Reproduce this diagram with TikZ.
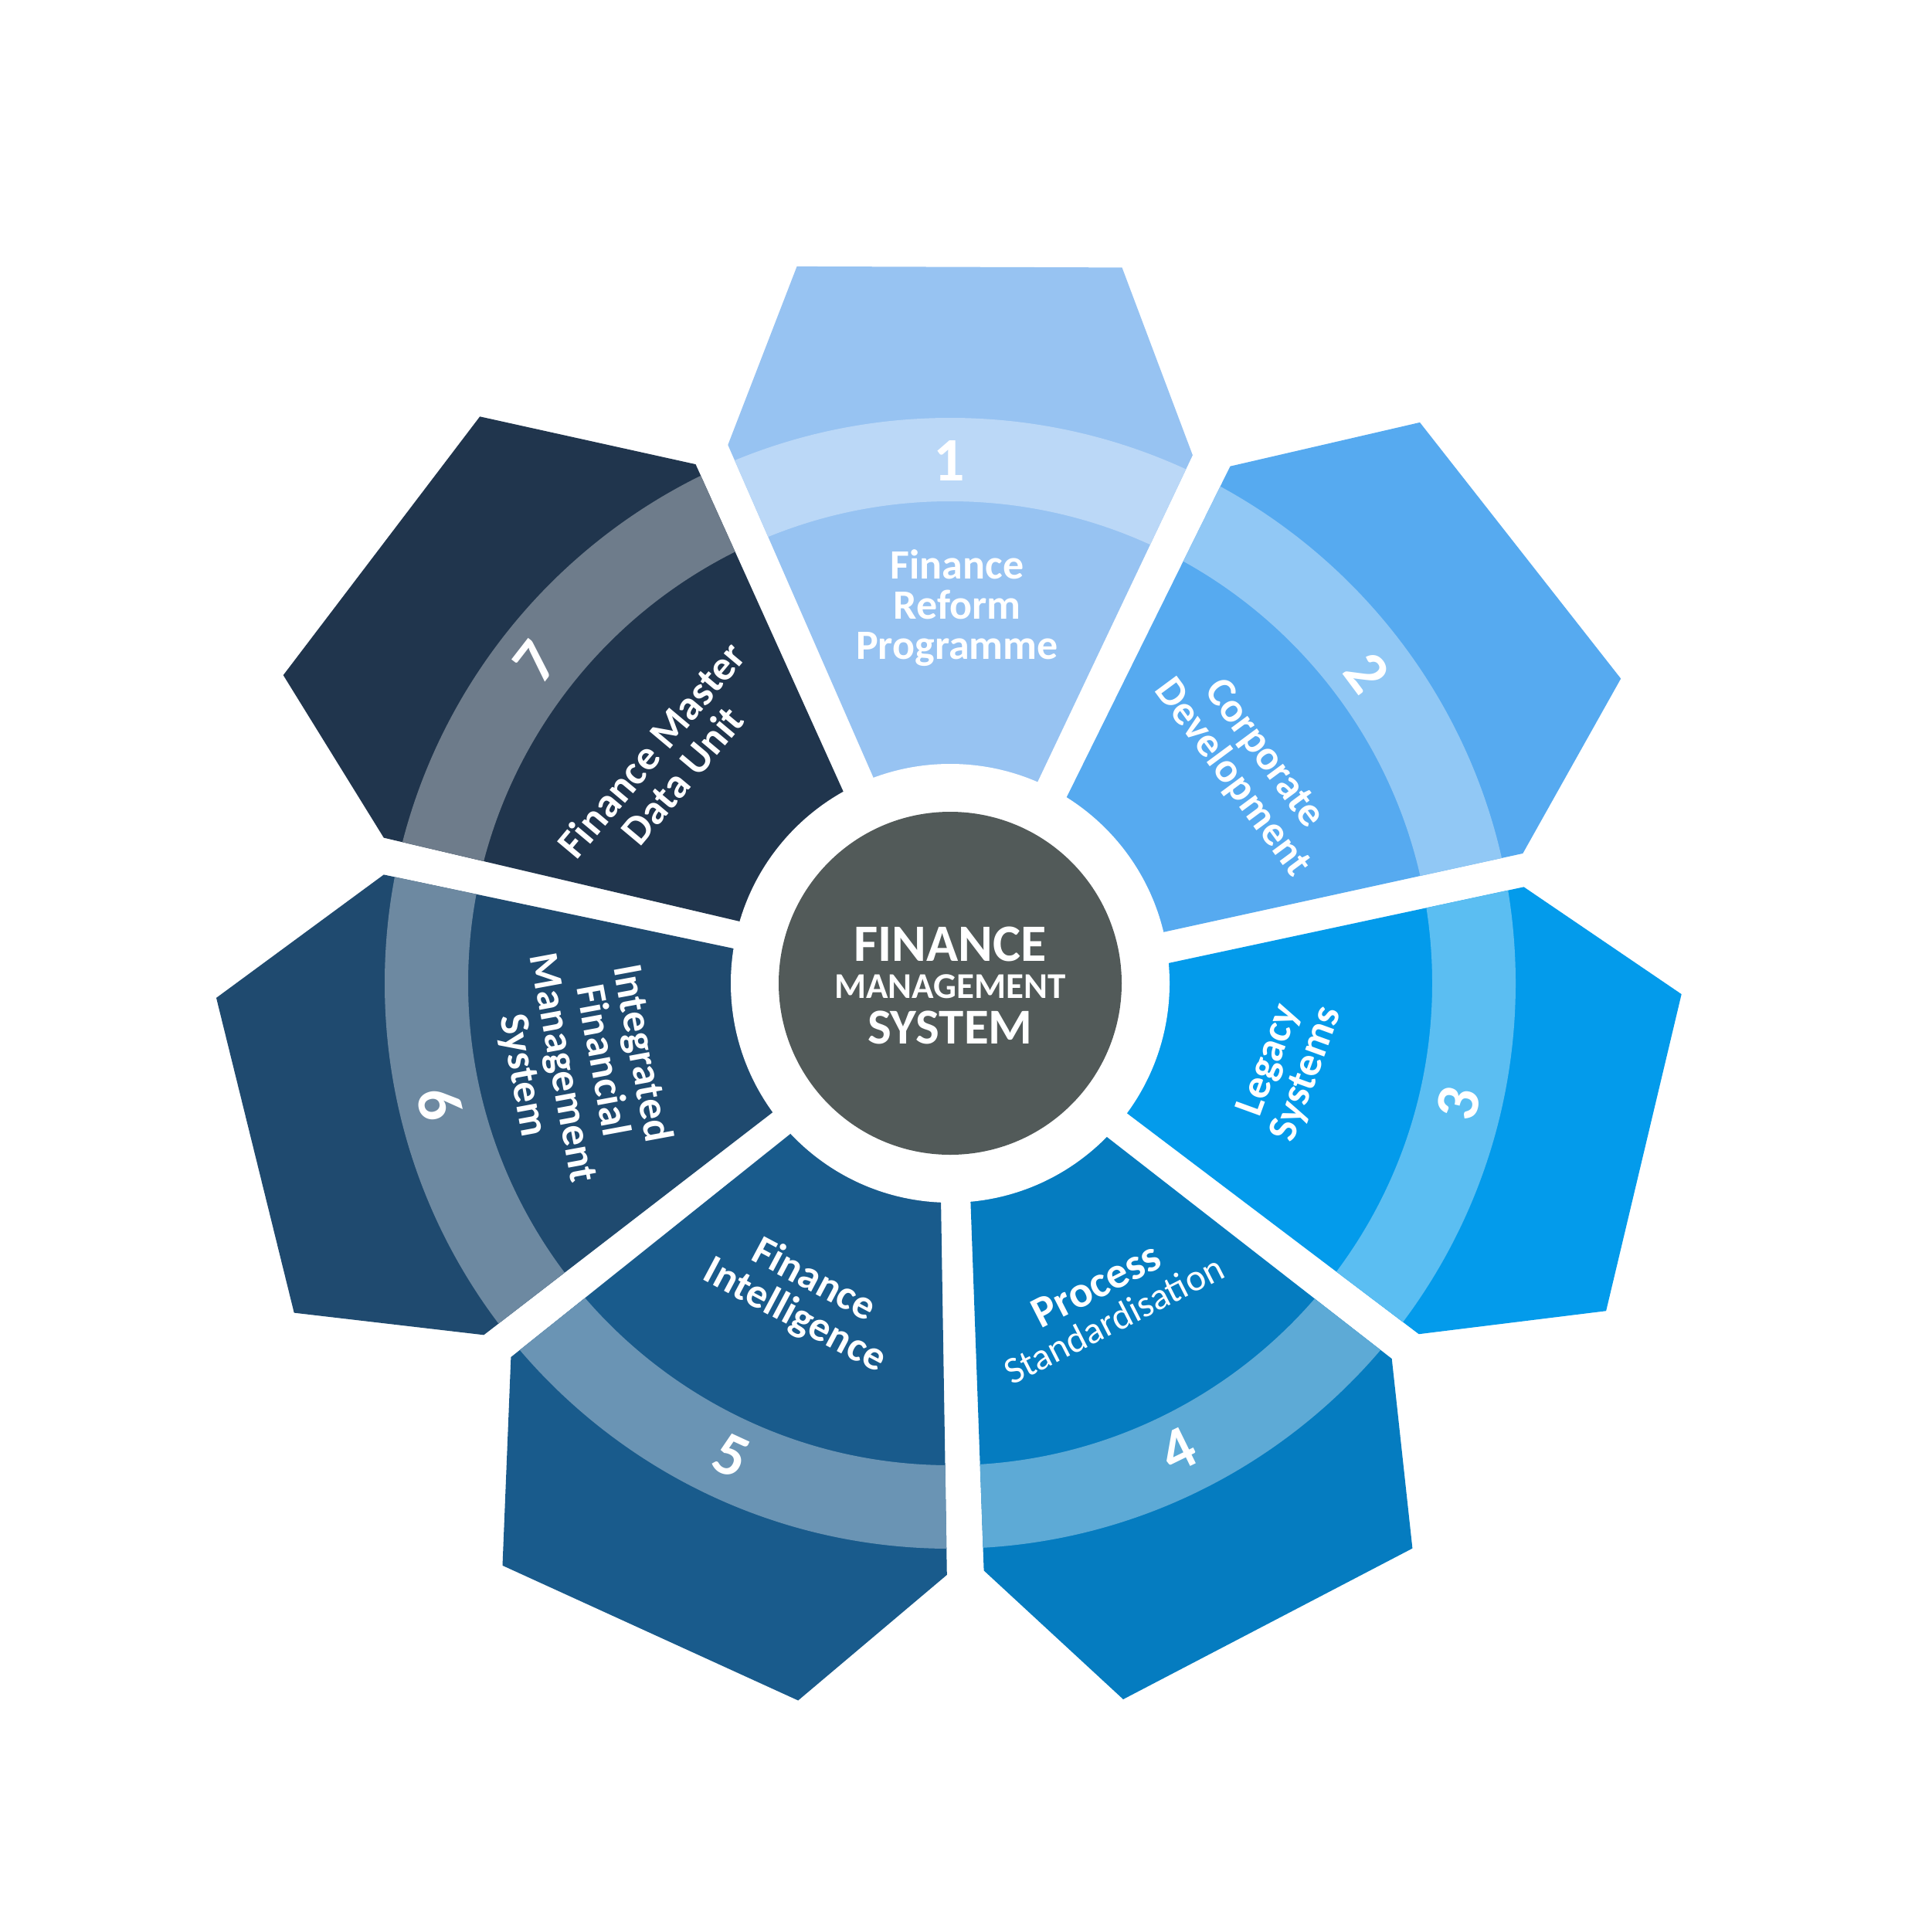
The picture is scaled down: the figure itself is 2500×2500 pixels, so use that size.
\documentclass[tikz,border=0pt]{standalone}
\usepackage{fontspec}
\setmainfont{Carlito}
\definecolor{cA}{HTML}{97C3F2}
\definecolor{cB}{HTML}{56AAF0}
\definecolor{cC}{HTML}{039BEB}
\definecolor{cD}{HTML}{057CC0}
\definecolor{cE}{HTML}{195B8C}
\definecolor{cF}{HTML}{1F4A6F}
\definecolor{cG}{HTML}{20354D}
\definecolor{hubc}{HTML}{525A59}
\newcommand\drawpetal[7]{%
  \fill[#1] (c) -- #2 -- #3 -- #4 -- #5 -- #6 -- #7 -- cycle;
  \begin{scope}
    \clip (c) -- #2 -- #3 -- #4 -- #5 -- #6 -- #7 -- cycle;
    \fill[#1!65!white, even odd rule] (c) circle[radius=732pt] (c) circle[radius=624pt];
  \end{scope}}
\begin{document}
\begin{tikzpicture}[x=1pt,y=-1pt,
  lbl/.style={text=white,font=\bfseries\fontsize{54}{52}\selectfont,align=center,inner sep=0pt},
  num/.style={text=white,font=\bfseries\fontsize{80}{80}\selectfont,inner sep=0pt},
  hubtxt/.style={text=white,anchor=base,inner sep=0pt}]
\useasboundingbox[fill=white] (0,0) rectangle (2500,2500);
\coordinate (c) at (1230,1273);
% petals
\drawpetal{cA}{(1131.1,1007.7)}{(942.3,576)}{(1031.6,344.9)}{(1452.5,346.4)}{(1543.9,589.3)}{(1342.9,1012.8)}
\drawpetal{cB}{(1380.7,1032.3)}{(1592.5,603.7)}{(1838,546.9)}{(2098.2,878.6)}{(1971.3,1104.9)}{(1505.1,1207)}
\drawpetal{cC}{(1512.8,1246.9)}{(1972.6,1148.3)}{(2176.7,1287.1)}{(2079.1,1697.2)}{(1836.7,1727.2)}{(1459.2,1441.5)}
\drawpetal{cD}{(1433,1472.1)}{(1801.7,1759.1)}{(1828.4,2004.6)}{(1454,2200)}{(1273.6,2033.3)}{(1256.4,1555.6)}
\drawpetal{cE}{(1218.1,1557.4)}{(1225.8,2038.9)}{(1033.2,2201.5)}{(650.5,2026.8)}{(661.4,1757)}{(1023,1468.1)}
\drawpetal{cF}{(1001.1,1439.4)}{(626.3,1728.3)}{(380.7,1699.6)}{(280,1291.9)}{(496.8,1132.4)}{(950.2,1228.1)}
\drawpetal{cG}{(957.9,1193)}{(496.8,1084.6)}{(366.7,874.1)}{(621.2,539.3)}{(900.5,601.1)}{(1091.9,1025.3)}
% white ring and hub
\fill[white] (c) circle[radius=284pt];
\node[circle,fill=hubc,minimum size=444pt,inner sep=0pt] (hub) at (c) {};
\node[hubtxt,font=\bfseries\fontsize{68}{68}\selectfont] (h1) at (1230,1244) {FINANCE};
\node[hubtxt,font=\bfseries\fontsize{47}{47}\selectfont] (h2) at (1230,1292) {MANAGEMENT};
\node[hubtxt,font=\bfseries\fontsize{65}{65}\selectfont] (h3) at (1230,1351) {SYSTEM};
% numbers
\node[num] (n1) at (1229,597) {1};
\node[num,rotate=-53.3] (n2) at (1770,871) {2};
\node[num,rotate=76.7] (n3) at (1888,1429) {3};
\node[num,rotate=26.1] (n4) at (1525,1877) {4};
\node[num,rotate=-24.8] (n5) at (947,1885) {5};
\node[num,rotate=-76.8] (n6) at (569,1429) {6};
\node[num,rotate=52.2] (n7) at (693,857) {7};
% labels
\node[lbl] (t1) at (1239,787) {Finance\\Reform\\Programme};
\node[lbl,rotate=-53.5] (t2) at (1615,992) {Corporate\\Development};
\node[lbl,rotate=70] (t3) at (1668,1382) {Legacy\\Systems};
\node[lbl,rotate=27,font=\bfseries\fontsize{57}{49}\selectfont] (t4) at (1430,1685) {Process\\{\mdseries\fontsize{49}{49}\selectfont Standardisation}};
\node[lbl,rotate=-28] (t5) at (1041,1681) {Finance\\Intelligence};
\node[lbl,rotate=-79.5] (t6) at (753,1378) {Integrated\\Financial\\Management\\System};
\node[lbl,rotate=50] (t7) at (863,987) {Finance Master\\Data Unit};
\end{tikzpicture}
\end{document}
